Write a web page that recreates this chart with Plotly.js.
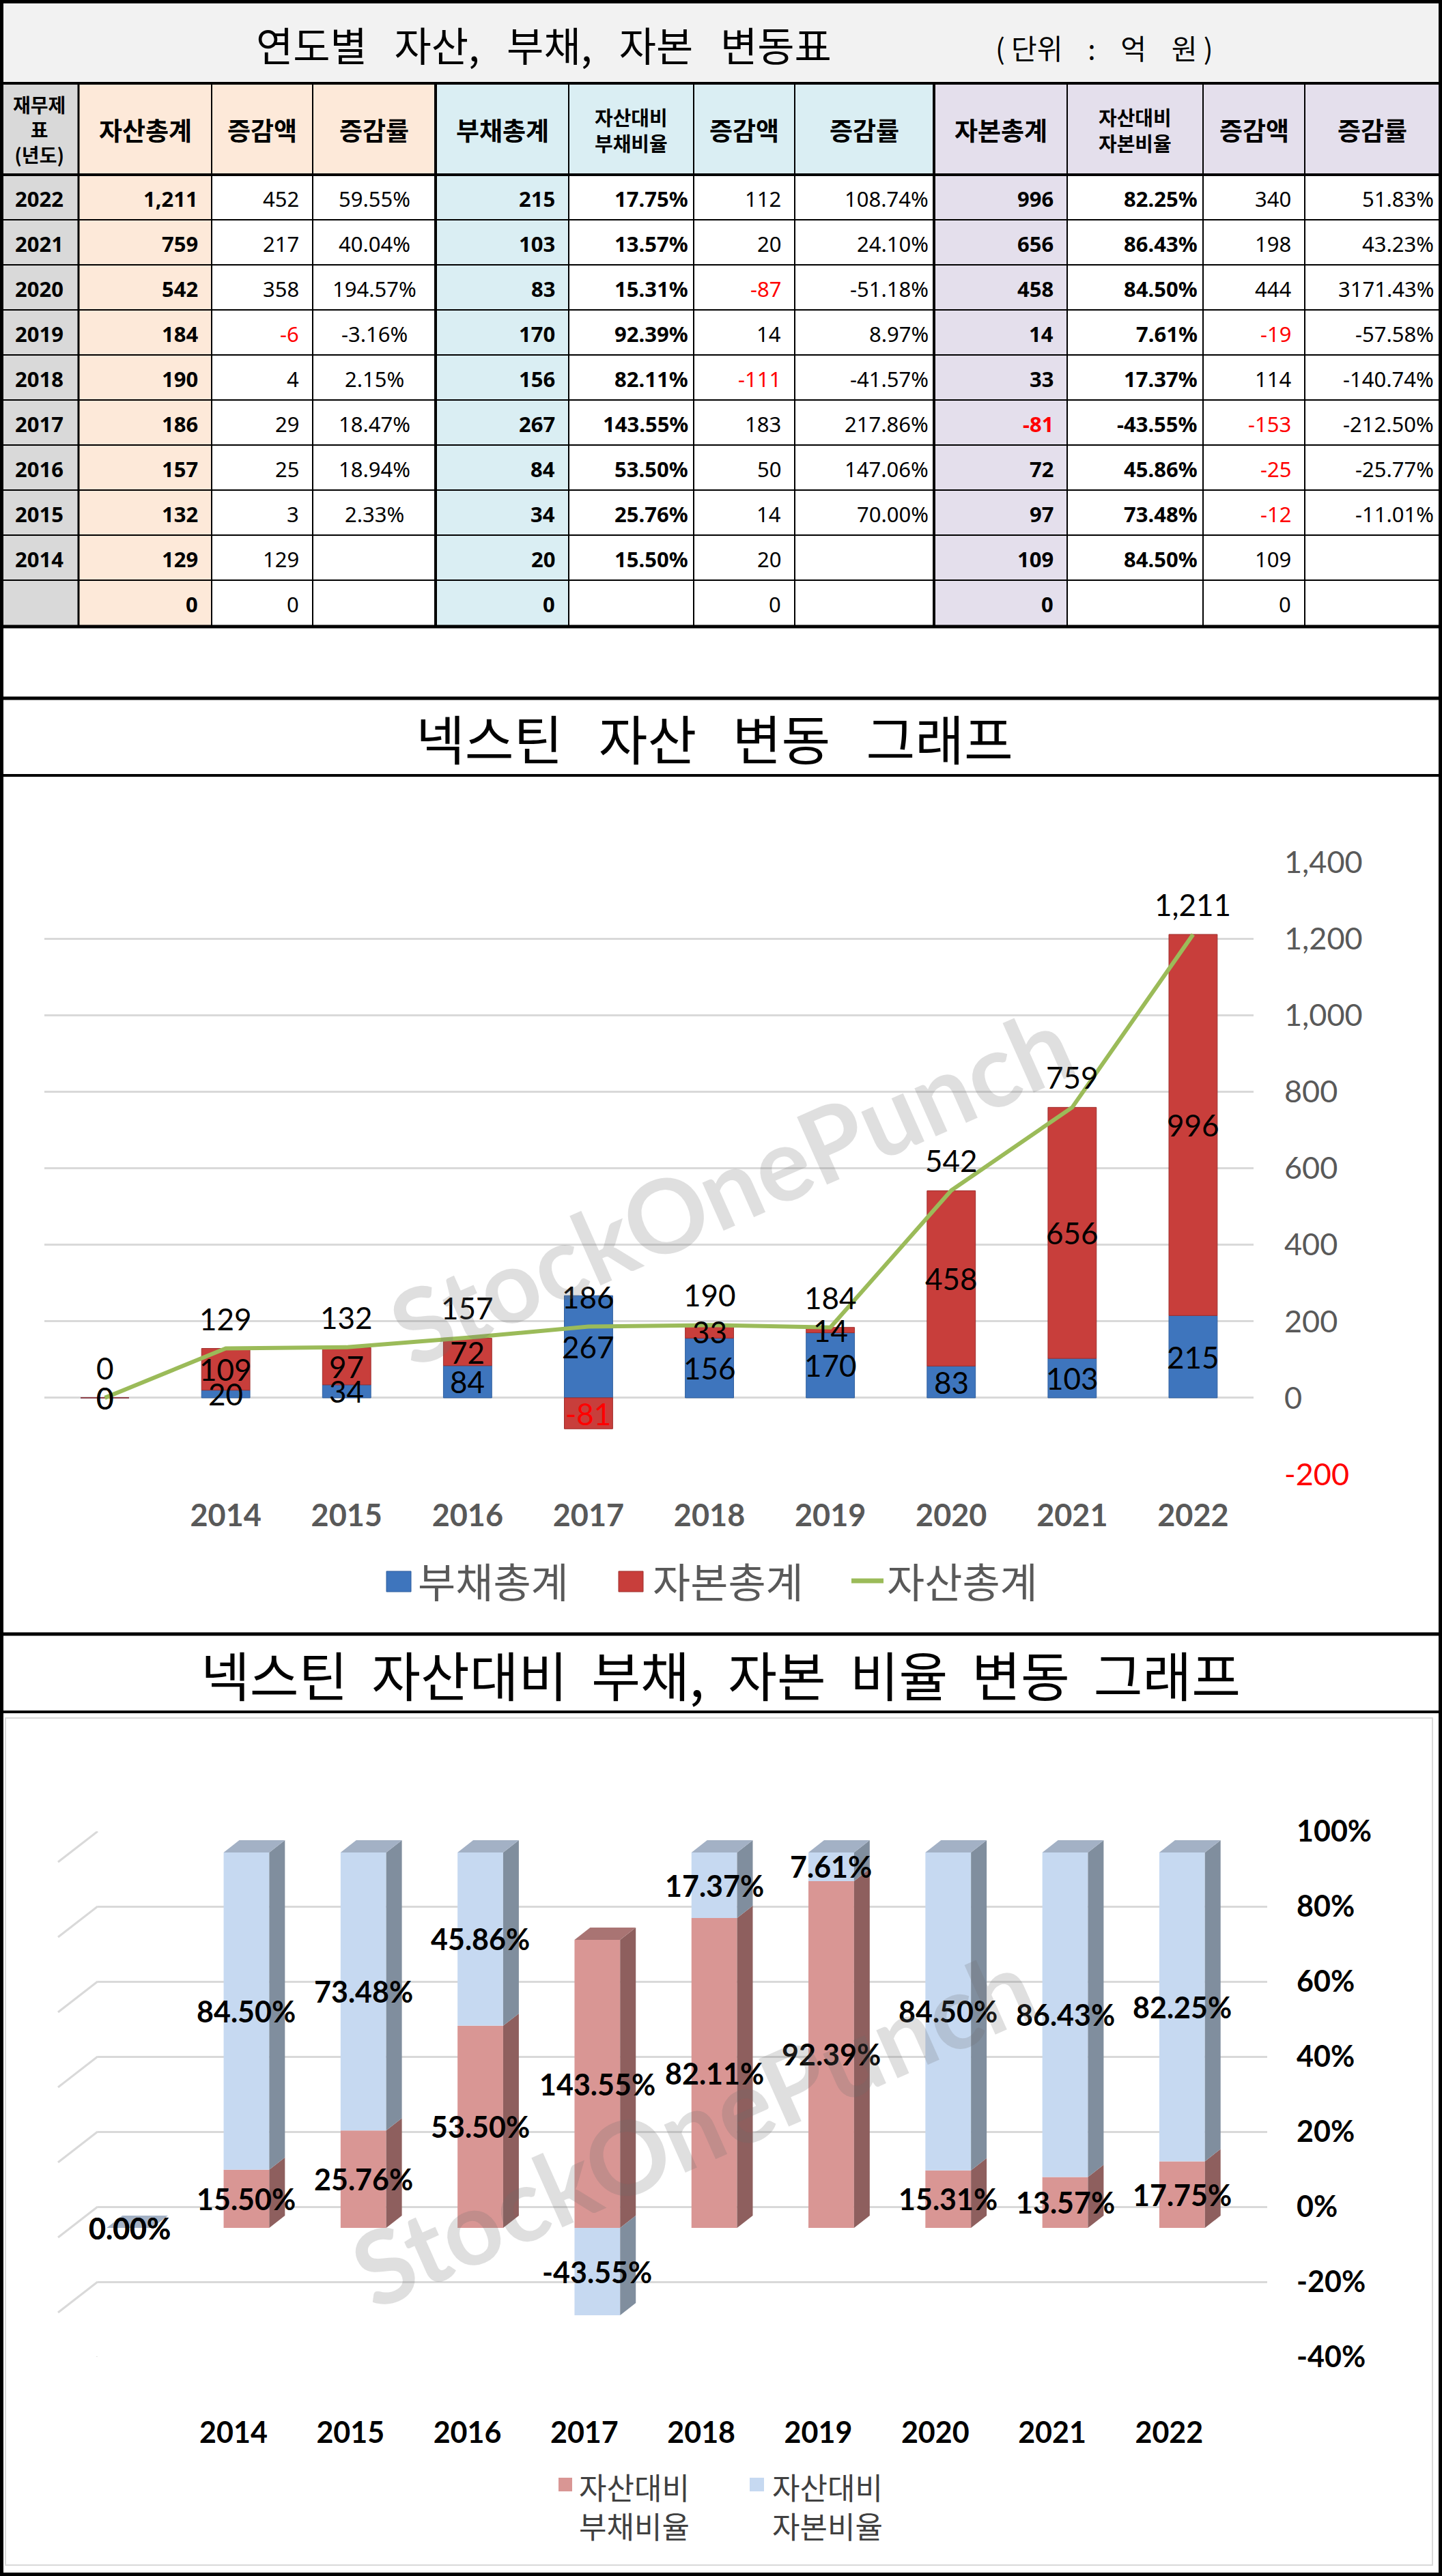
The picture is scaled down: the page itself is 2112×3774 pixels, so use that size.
<!DOCTYPE html>
<html>
<head>
<meta charset="utf-8">
<script src="https://cdn.plot.ly/plotly-3.0.1.min.js"></script>
<style>
html, body { margin: 0; padding: 0; background: #ffffff; }
#chart { width: 2112px; height: 3774px; }
</style>
</head>
<body>
<div id="chart"></div>
<script>
// ---------------- data ----------------
const tableYears   = ['2022', '2021', '2020', '2019', '2018', '2017', '2016', '2015', '2014', ''];
const assetTotal   = [1211, 759, 542, 184, 190, 186, 157, 132, 129, 0];
const assetChange  = [452, 217, 358, -6, 4, 29, 25, 3, 129, 0];
const assetRate    = [59.55, 40.04, 194.57, -3.16, 2.15, 18.47, 18.94, 2.33, null, null];
const debtTotal    = [215, 103, 83, 170, 156, 267, 84, 34, 20, 0];
const debtRatio    = [17.75, 13.57, 15.31, 92.39, 82.11, 143.55, 53.50, 25.76, 15.50, null];
const debtChange   = [112, 20, -87, 14, -111, 183, 50, 14, 20, 0];
const debtRate     = [108.74, 24.10, -51.18, 8.97, -41.57, 217.86, 147.06, 70.00, null, null];
const equityTotal  = [996, 656, 458, 14, 33, -81, 72, 97, 109, 0];
const equityRatio  = [82.25, 86.43, 84.50, 7.61, 17.37, -43.55, 45.86, 73.48, 84.50, null];
const equityChange = [340, 198, 444, -19, 114, -153, -25, -12, 109, 0];
const equityRate   = [51.83, 43.23, 3171.43, -57.58, -140.74, -212.50, -25.77, -11.01, null, null];

const headerLabels = ['재무제<br>표<br>(년도)', '자산총계', '증감액', '증감률', '부채총계', '자산대비<br>부채비율',
                      '증감액', '증감률', '자본총계', '자산대비<br>자본비율', '증감액', '증감률'];
const tableTitle   = '연도별 자산, 부채, 자본 변동표';
const unitLabel    = '(단위 : 억 원)';
const chart1Title  = '넥스틴 자산 변동 그래프';
const chart2Title  = '넥스틴 자산대비 부채, 자본 비율 변동 그래프';
const chart1Series = ['부채총계', '자본총계', '자산총계'];
const chart2Series = ['자산대비<br>부채비율', '자산대비<br>자본비율'];
const assetAxisTicks = [-200, 0, 200, 400, 600, 800, 1000, 1200, 1400];
const ratioAxisTicks = [-40, -20, 0, 20, 40, 60, 80, 100];
const watermarkText  = 'StockOnePunch';

// ---------------- helpers ----------------
const W = 2112, H = 3774;
const PX = v => v / W;
const PY = v => 1 - v / H;
const FN = 'Noto Sans, Noto Sans CJK KR, sans-serif';
const FK = 'Noto Sans CJK KR, sans-serif';
const FL = 'Lato, sans-serif';
const fmtInt = v => (v < 0 ? '-' : '') + Math.abs(v).toLocaleString('en-US');
const fmtPct = v => (v == null ? '' : (v < 0 ? '-' : '') + Math.abs(v).toFixed(2) + '%');
const nb = n => '\u00A0'.repeat(n);

const shapes = [];
const anns = [];
function rect(x0, y0, x1, y1, fill, lineColor, lineWidth, layer) {
  shapes.push({type: 'rect', xref: 'paper', yref: 'paper', x0: PX(x0), x1: PX(x1), y0: PY(y0), y1: PY(y1),
    fillcolor: fill || 'rgba(0,0,0,0)', line: {color: lineColor || 'rgba(0,0,0,0)', width: lineWidth || 0},
    layer: layer || 'below'});
}
function seg(x0, y0, x1, y1, color, width, layer) {
  shapes.push({type: 'line', xref: 'paper', yref: 'paper', x0: PX(x0), x1: PX(x1), y0: PY(y0), y1: PY(y1),
    line: {color: color, width: width}, layer: layer || 'above'});
}
function pann(x, y, text, font, opts) {
  anns.push(Object.assign({xref: 'paper', yref: 'paper', x: PX(x), y: PY(y), text: text, showarrow: false,
    xanchor: 'center', yanchor: 'middle', font: font}, opts || {}));
}

// ---------------- table ----------------
const colEdges = [0, 115, 310, 458, 638, 833, 1016, 1164, 1368, 1563, 1762, 1911, 2108];
const titleBottom = 122, headerBottom = 256, rowH = 66, tableBottom = 918;
const colFill = ['#D9D9D9', '#FDE9D9', '#FDE9D9', '#FDE9D9', '#DAEEF3', '#DAEEF3', '#DAEEF3', '#DAEEF3',
                 '#E4DFEC', '#E4DFEC', '#E4DFEC', '#E4DFEC'];
const colBodyFill = [1, 1, 0, 0, 1, 0, 0, 0, 1, 0, 0, 0];
const tableCols = [tableYears, assetTotal, assetChange, assetRate, debtTotal, debtRatio, debtChange, debtRate,
                   equityTotal, equityRatio, equityChange, equityRate];
const colKind  = ['year', 'int', 'int', 'pct', 'int', 'pct', 'int', 'pct', 'int', 'pct', 'int', 'pct'];
const colBold  = [1, 1, 0, 0, 1, 1, 0, 0, 1, 1, 0, 0];
const colRed   = [0, 0, 1, 0, 0, 0, 1, 0, 1, 0, 1, 0];
const colAlign = ['center', 'right', 'right', 'center', 'right', 'right', 'right', 'right', 'right', 'right', 'right', 'right'];
const vWidth   = [0, 3, 2, 2, 4, 2, 2, 2, 4, 2, 2, 2];

rect(0, 0, W, titleBottom, '#F2F2F2');
for (let c = 0; c < 12; c++) {
  rect(colEdges[c], titleBottom, colEdges[c + 1], headerBottom, colFill[c]);
  if (colBodyFill[c]) rect(colEdges[c], headerBottom, colEdges[c + 1], tableBottom, colFill[c]);
}
for (let c = 1; c < 12; c++) seg(colEdges[c], titleBottom, colEdges[c], tableBottom, '#000', vWidth[c]);
for (let r = 1; r < tableYears.length; r++) seg(0, headerBottom + r * rowH, W, headerBottom + r * rowH, '#000', 2);

pann(796, 64, tableTitle.replace(/ /g, nb(3)), {family: FK, size: 59, color: '#000'});
pann(1617, 69, unitLabel.replace('(', '(' + nb(1)).replace(')', nb(1) + ')').replace(/ /g, nb(4)),
     {family: FK, size: 41, color: '#000'});

headerLabels.forEach((h, c) => {
  const multi = h.indexOf('<br>') >= 0;
  const size = c === 0 ? 28 : (multi ? 29 : 37);
  pann((colEdges[c] + colEdges[c + 1]) / 2, 190, h, {family: FK, size: size, color: '#000', weight: 'bold'});
});

tableCols.forEach((col, c) => {
  col.forEach((v, r) => {
    let text;
    if (colKind[c] === 'year') text = v;
    else if (colKind[c] === 'int') text = (v == null ? '' : fmtInt(v));
    else text = fmtPct(v);
    if (text === '') return;
    const isRed = colRed[c] && v < 0;
    const yc = headerBottom + r * rowH + 35;
    let x, xa;
    if (colAlign[c] === 'center') { x = (colEdges[c] + colEdges[c + 1]) / 2; xa = 'center'; }
    else { x = colEdges[c + 1] - (colKind[c] === 'int' ? 18 : 6); xa = 'right'; }
    pann(x, yc, text, {family: FN, size: 31, color: isRed ? '#FF0000' : '#000', weight: colBold[c] ? 'bold' : 'normal'},
         {xanchor: xa});
  });
});

// frame lines
[[titleBottom, 4], [headerBottom, 4], [tableBottom, 5], [1023, 5], [1136, 4], [2394, 5], [2508, 4]]
  .forEach(([y, w]) => seg(0, y, W, y, '#000', w));
rect(2.5, 2.5, W - 2.5, H - 2.5, null, '#000', 5, 'above');

// ---------------- chart data (ascending years) ----------------
const chartCats = tableYears.slice().reverse();
const idx = chartCats.map((_, i) => i);
const cDebt = debtTotal.slice().reverse();
const cEquity = equityTotal.slice().reverse();
const cAsset = assetTotal.slice().reverse();
const cDebtRatio = debtRatio.slice().reverse().map(v => (v == null ? 0 : v));
const cEquityRatio = equityRatio.slice().reverse().map(v => (v == null ? 0 : v));

const BLUE = '#3E75BD', RED = '#C83E3B', GREEN = '#9BBB59';

// ---------------- chart 1 ----------------
pann(1046, 1080, chart1Title.replace(/ /g, nb(3)), {family: FK, size: 78, color: '#000'});

const traces = [];
traces.push({type: 'bar', x: idx, y: cDebt, name: chart1Series[0], width: 0.4, xaxis: 'x', yaxis: 'y',
  marker: {color: BLUE, line: {color: '#2F5F9E', width: 1}}, hoverinfo: 'skip'});
traces.push({type: 'bar', x: idx, y: cEquity, name: chart1Series[1], width: 0.4, xaxis: 'x', yaxis: 'y',
  marker: {color: RED, line: {color: '#9E2E2C', width: 1}}, hoverinfo: 'skip'});
traces.push({type: 'scatter', mode: 'lines', x: idx, y: cAsset, name: chart1Series[2], xaxis: 'x', yaxis: 'y',
  line: {color: GREEN, width: 6}, hoverinfo: 'skip'});

idx.forEach(i => {
  let pos = 0, neg = 0;
  [cDebt, cEquity].forEach(arr => {
    const v = arr[i];
    let b, t;
    if (v >= 0) { b = pos; t = pos + v; pos = t; } else { t = neg; b = neg + v; neg = b; }
    anns.push({xref: 'x', yref: 'y', x: i, y: (b + t) / 2, text: fmtInt(v), showarrow: false,
      xanchor: 'center', yanchor: 'middle', font: {family: FL, size: 44, color: v < 0 ? '#FF0000' : '#000'}});
  });
  anns.push({xref: 'x', yref: 'y', x: i, y: cAsset[i], yshift: 44, text: fmtInt(cAsset[i]), showarrow: false,
    xanchor: 'center', yanchor: 'middle', font: {family: FL, size: 44, color: '#000'}});
});

// chart 1 legend (manual)
rect(566, 2302, 602, 2332, BLUE, '#2F5F9E', 1, 'above');
rect(906, 2302, 942, 2332, RED, '#9E2E2C', 1, 'above');
seg(1247, 2316, 1294, 2316, GREEN, 7);
[[610, chart1Series[0]], [954, chart1Series[1]], [1297, chart1Series[2]]].forEach(([x, t]) =>
  pann(x, 2314, t, {family: FK, size: 60, color: '#595959'}, {xanchor: 'left'}));

pann(1070, 1735, watermarkText, {family: FL, size: 150, color: 'rgba(110,110,110,0.22)', weight: 'bold'}, {textangle: -24});

// ---------------- chart 2 ----------------
pann(1055, 2452, chart2Title.replace(/ /g, nb(2)), {family: FK, size: 78, color: '#000'});
rect(8, 2517, 2098, 3758, null, '#D9D9D9', 2, 'below');

const sumAbs = idx.map(i => Math.abs(cDebtRatio[i]) + Math.abs(cEquityRatio[i]));
const nDebt = idx.map(i => (sumAbs[i] ? cDebtRatio[i] / sumAbs[i] * 100 : 0));
const nEquity = idx.map(i => (sumAbs[i] ? cEquityRatio[i] / sumAbs[i] * 100 : 0));

const PINK = '#D99694', LBLUE = '#C6D9F1';
const sideCol = ['#8E5F5E', '#808E9E'];
const topCol = ['#A97473', '#A3B1C5'];
const HW = 0.195, DX = 0.134, DY = 3.27;

// back-wall subplot (grid + tick labels) drawn first
traces.push({type: 'scatter', x: [], y: [], xaxis: 'x2', yaxis: 'y2', hoverinfo: 'skip', showlegend: false});

const sides = [{x: [], y: []}, {x: [], y: []}];
const tops = [{x: [], y: []}, {x: [], y: []}];
idx.forEach(i => {
  let pos = 0, neg = 0, topK = 1;
  [nDebt, nEquity].forEach((arr, k) => {
    const v = arr[i];
    let b, t;
    if (v >= 0) { b = pos; t = pos + v; pos = t; if (v > 0) topK = k; } else { t = neg; b = neg + v; neg = b; }
    if (t > b) {
      sides[k].x.push(i + HW, i + HW + DX, i + HW + DX, i + HW, i + HW, null);
      sides[k].y.push(b, b + DY, t + DY, t, b, null);
    }
    anns.push({xref: 'x3', yref: 'y3', x: i, y: (b + t) / 2,
      text: fmtPct(k === 0 ? cDebtRatio[i] : cEquityRatio[i]), showarrow: false,
      xanchor: 'center', yanchor: 'middle', font: {family: FL, size: 43, color: '#000', weight: 'bold'}});
  });
  tops[topK].x.push(i - HW, i - HW + DX, i + HW + DX, i + HW, i - HW, null);
  tops[topK].y.push(pos, pos + DY, pos + DY, pos, pos, null);
});
[0, 1].forEach(k => {
  traces.push({type: 'scatter', mode: 'lines', x: sides[k].x, y: sides[k].y, fill: 'toself', fillcolor: sideCol[k],
    line: {width: 0, color: sideCol[k]}, xaxis: 'x3', yaxis: 'y3', hoverinfo: 'skip', showlegend: false});
  traces.push({type: 'scatter', mode: 'lines', x: tops[k].x, y: tops[k].y, fill: 'toself', fillcolor: topCol[k],
    line: {width: 0, color: topCol[k]}, xaxis: 'x3', yaxis: 'y3', hoverinfo: 'skip', showlegend: false});
});
traces.push({type: 'bar', x: idx, y: nDebt, name: chart2Series[0], width: 2 * HW, xaxis: 'x3', yaxis: 'y3',
  marker: {color: PINK}, hoverinfo: 'skip'});
traces.push({type: 'bar', x: idx, y: nEquity, name: chart2Series[1], width: 2 * HW, xaxis: 'x3', yaxis: 'y3',
  marker: {color: LBLUE}, hoverinfo: 'skip'});

// side-wall grid diagonals
ratioAxisTicks.forEach(v => {
  shapes.push({type: 'line', xref: 'paper', yref: 'y2', x0: PX(143), x1: PX(85), y0: v, y1: v - 45 / 5.5,
    line: {color: '#D9D9D9', width: 3}, layer: 'below'});
});

// chart 2 legend (manual)
rect(818, 3630, 838, 3650, PINK, null, 0, 'above');
rect(1098, 3630, 1119, 3650, LBLUE, null, 0, 'above');
pann(846, 3671, chart2Series[0], {family: FK, size: 44, color: '#404040'}, {xanchor: 'left', align: 'left'});
pann(1129, 3671, chart2Series[1], {family: FK, size: 44, color: '#404040'}, {xanchor: 'left', align: 'left'});

pann(1014, 3115, watermarkText, {family: FL, size: 150, color: 'rgba(110,110,110,0.22)', weight: 'bold'}, {textangle: -24});

// ---------------- layout ----------------
const layout = {
  width: W, height: H,
  margin: {l: 0, r: 0, t: 0, b: 0, pad: 0},
  paper_bgcolor: '#ffffff', plot_bgcolor: 'rgba(0,0,0,0)',
  showlegend: false, barmode: 'relative', hovermode: false,
  xaxis: {domain: [PX(65), PX(1836)], range: [-0.5, 9.5], anchor: 'y', tickmode: 'array', tickvals: idx, ticktext: chartCats,
    showgrid: false, zeroline: false, showline: false, ticks: '', ticklabelstandoff: 30,
    tickfont: {family: FL, size: 45, color: '#595959', weight: 'bold'}},
  yaxis: {domain: [PY(2160), PY(1263)], range: [-200, 1400], anchor: 'x', side: 'right', tickmode: 'array',
    tickvals: assetAxisTicks,
    ticktext: assetAxisTicks.map(v => (v < 0 ? '<span style="color:#FF0000">' + fmtInt(v) + '</span>' : fmtInt(v))),
    showgrid: true, gridcolor: '#D9D9D9', gridwidth: 3, zeroline: false, showline: false, ticks: '',
    ticklabelstandoff: 44, tickfont: {family: FL, size: 45, color: '#595959'}},
  xaxis2: {domain: [PX(143), PX(1856)], range: [0, 1], anchor: 'y2', visible: false},
  yaxis2: {domain: [PY(3453), PY(2683)], range: [-40, 100], anchor: 'x2', side: 'right', tickmode: 'array',
    tickvals: ratioAxisTicks, ticktext: ratioAxisTicks.map(v => v + '%'),
    showgrid: true, gridcolor: '#D9D9D9', gridwidth: 3, zeroline: false, showline: false, ticks: '',
    ticklabelstandoff: 42, tickfont: {family: FL, size: 43, color: '#000', weight: 'bold'}},
  xaxis3: {domain: [PX(104), PX(1817)], range: [-0.5, 9.5], anchor: 'y3', tickmode: 'array', tickvals: idx, ticktext: chartCats,
    showgrid: false, zeroline: false, showline: false, ticks: '', ticklabelstandoff: 82, ticklabelshift: -19,
    tickfont: {family: FL, size: 43, color: '#000', weight: 'bold'}},
  yaxis3: {domain: [PY(3453), PY(2683)], range: [-34.36, 105.64], anchor: 'x3', visible: false},
  shapes: shapes,
  annotations: anns
};

Plotly.newPlot('chart', traces, layout, {staticPlot: true, displayModeBar: false});
</script>
</body>
</html>
